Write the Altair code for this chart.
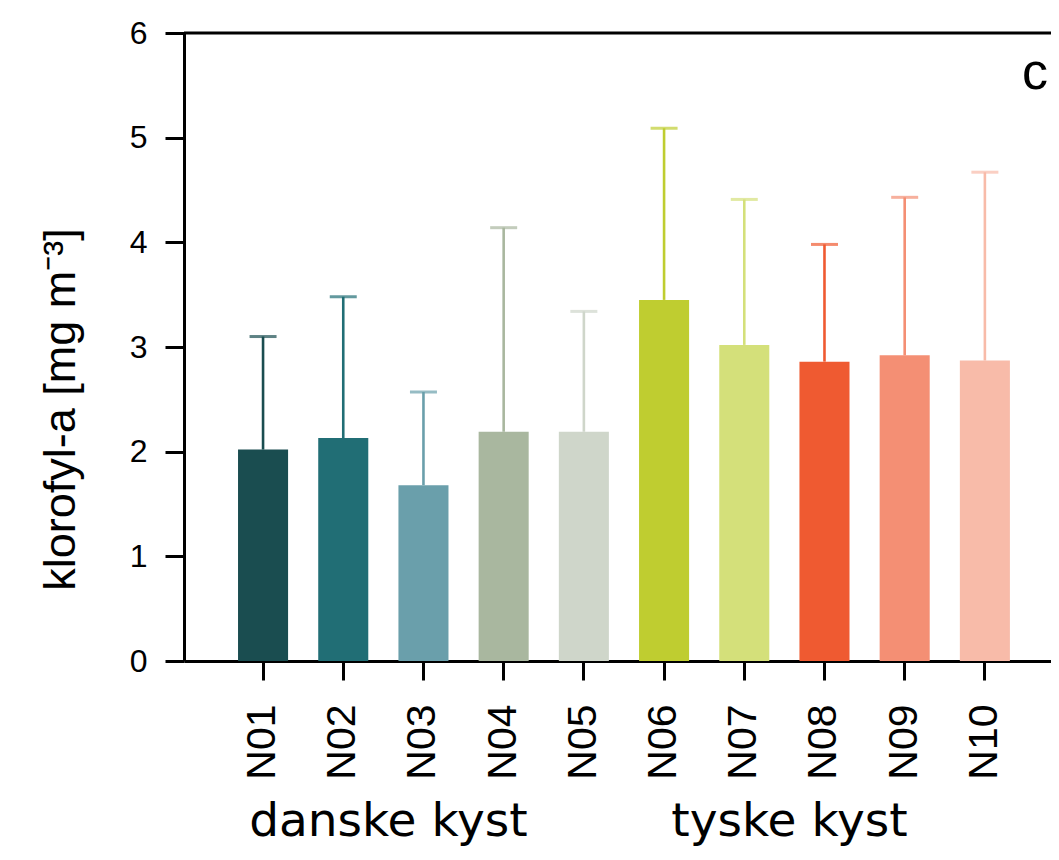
import altair as alt
import pandas as pd

# ---- data ----
sites = ["N01", "N02", "N03", "N04", "N05", "N06", "N07", "N08", "N09", "N10"]
means = [2.02, 2.13, 1.68, 2.19, 2.19, 3.45, 3.02, 2.86, 2.92, 2.87]
sds = [1.08, 1.35, 0.89, 1.95, 1.15, 1.64, 1.39, 1.12, 1.51, 1.80]
colors = ["#1a4d50", "#216e75", "#6a9fab", "#a9b79f", "#cfd6ca",
          "#bfcd30", "#d4e07a", "#ef5a31", "#f48f74", "#f8bba9"]
group_labels = ["danske kyst", "tyske kyst"]
group_anchor = ["N03", "N08"]
panel_label = ["c"]
panel_anchor = ["N10"]
y_ticks = [0, 1, 2, 3, 4, 5, 6]
y_max = 6

df = pd.DataFrame({"site": sites, "mean": means, "sd": sds})
df["upper"] = df["mean"] + df["sd"]

FONT = "Liberation Sans"

x_enc = alt.X(
    "site:N", sort=sites,
    scale=alt.Scale(paddingInner=0.376, paddingOuter=0.593, align=0.568),
    axis=alt.Axis(title=None, labelAngle=270, labelFontSize=41, labelPadding=24,
                  labelFont=FONT, labelColor="black"),
)
y_scale = alt.Scale(domain=[0, y_max], nice=False, zero=True)
color_enc = alt.Color("site:N", scale=alt.Scale(domain=sites, range=colors), legend=None)

base = alt.Chart(df)

bars = base.mark_bar().encode(
    x=x_enc,
    y=alt.Y("mean:Q", scale=y_scale,
            axis=alt.Axis(title="klorofyl-a [mg m⁻³]", values=y_ticks, format="d", grid=False,
                          labelFontSize=32, labelPadding=18, labelFont=FONT,
                          labelColor="black", titleFont=FONT, titleFontSize=45,
                          titleFontWeight="normal", titlePadding=46, titleColor="black",
                          titleY=376)),
    color=color_enc,
)

err = base.mark_rule(strokeWidth=2.6).encode(
    x=alt.X("site:N", sort=sites),
    y=alt.Y("mean:Q"),
    y2="upper:Q",
    color=color_enc,
)

caps = base.mark_tick(size=27, thickness=3).encode(
    x=alt.X("site:N", sort=sites),
    y=alt.Y("upper:Q"),
    color=color_enc,
)

top = alt.Chart(pd.DataFrame({"top": [y_max]})).mark_rule(
    color="black", strokeWidth=3).encode(y="top:Q")

groups = alt.Chart(pd.DataFrame({"site": group_anchor, "label": group_labels})).mark_text(
    font="DejaVu Sans", fontSize=47, dx=-35, align="center", baseline="alphabetic",
    color="black",
).encode(
    x=alt.X("site:N", sort=sites),
    y=alt.value(803),
    text="label:N",
)

panel = alt.Chart(pd.DataFrame({"site": panel_anchor, "label": panel_label, "y": [5.62]})).mark_text(
    font=FONT, fontSize=52, dx=50, align="center", baseline="middle", color="black",
).encode(
    x=alt.X("site:N", sort=sites),
    y=alt.Y("y:Q"),
    text="label:N",
)

chart = alt.layer(bars, err, caps, top, groups, panel).properties(
    width=867, height=628,
    autosize=alt.AutoSizeParams(type="none"),
    padding={"left": 176, "top": 25, "right": 0, "bottom": 190},
).configure_view(stroke=None).configure_axis(
    domainColor="black", domainWidth=3, tickColor="black", tickWidth=3, tickSize=19,
)

chart.save("out.html", embed_options={"renderer": "svg", "actions": False})
